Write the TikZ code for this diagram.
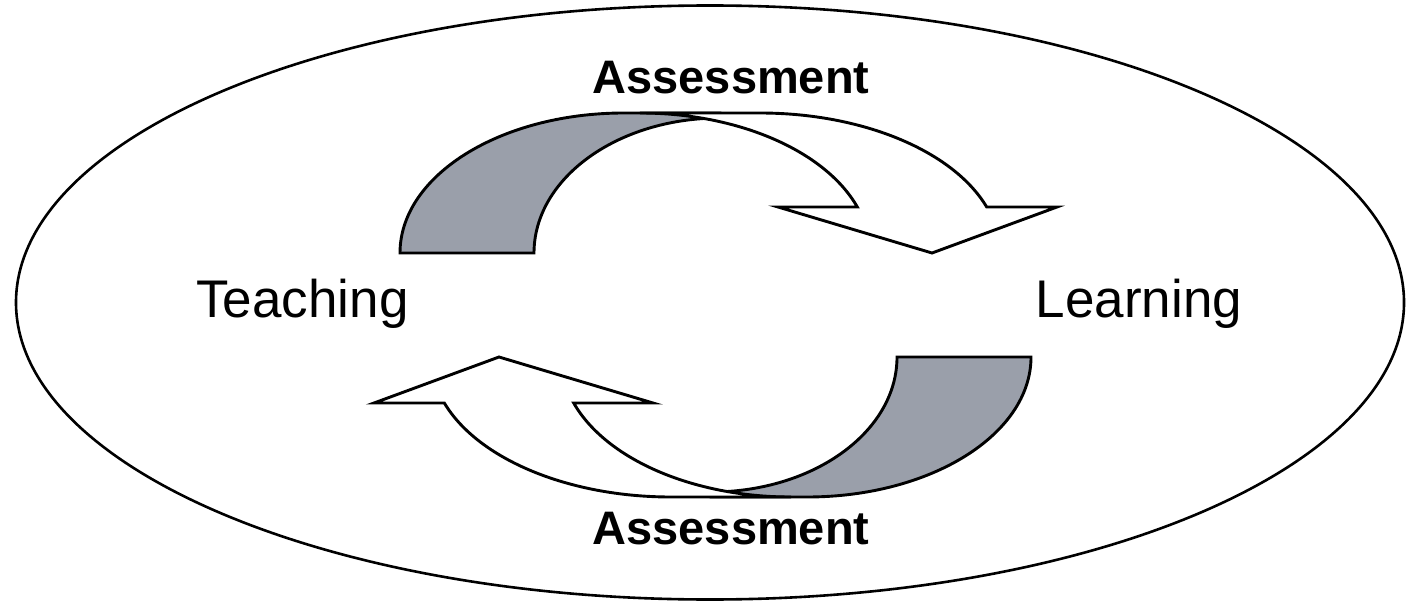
\documentclass[tikz,border=0pt]{standalone}
\usepackage{fontspec}
\setmainfont{Liberation Sans}
\definecolor{bandgray}{RGB}{154,159,170}
\begin{document}
\begin{tikzpicture}[x=0.5pt,y=0.5pt,
  ring/.style={draw=black,line width=1.3pt},
  backband/.style={fill=bandgray,draw=black,line width=1.45pt,line join=miter},
  frontband/.style={fill=white,draw=black,line width=1.45pt,line join=miter},
  lbl/.style={font=\fontsize{26.5}{30}\selectfont,inner sep=0pt,anchor=base},
  albl/.style={font=\bfseries\fontsize{23.5}{27}\selectfont,inner sep=0pt,anchor=base}]
\useasboundingbox (0,0) rectangle (1406,606);
\fill[white] (0,0) rectangle (1406,606);
% outer ellipse
\draw[ring] (710,303.5) ellipse [x radius=694, y radius=297];
% top curved arrow
\begin{scope}
  \draw[backband] (400,353) arc[start angle=180,end angle=90,x radius=224,y radius=140]
     -- (720,493) -- (720,488)
     arc[start angle=90,end angle=180,x radius=186,y radius=135] -- cycle;
  \draw[frontband] (640,493) -- (760,493)
     arc[start angle=90,end angle=19.18,x radius=240,y radius=140]
     -- (1057,399) -- (932,353) -- (778,399) -- (857.3,399)
     arc[start angle=19.18,end angle=90,x radius=230,y radius=140] -- cycle;
\end{scope}
% bottom curved arrow (same shape turned half way round)
\begin{scope}[rotate around={180:(715.5,301)}]
  \draw[backband] (400,353) arc[start angle=180,end angle=90,x radius=224,y radius=140]
     -- (720,493) -- (720,488)
     arc[start angle=90,end angle=180,x radius=186,y radius=135] -- cycle;
  \draw[frontband] (640,493) -- (760,493)
     arc[start angle=90,end angle=19.18,x radius=240,y radius=140]
     -- (1057,399) -- (932,353) -- (778,399) -- (857.3,399)
     arc[start angle=19.18,end angle=90,x radius=230,y radius=140] -- cycle;
\end{scope}
% labels
\node[lbl] (teach) at (302.5,289) {Teaching};
\node[lbl] (learn) at (1139,289) {Learning};
\node[albl] (assesstop) at (731,512) {Assessment};
\node[albl] (assessbot) at (731,62) {Assessment};
\end{tikzpicture}
\end{document}
